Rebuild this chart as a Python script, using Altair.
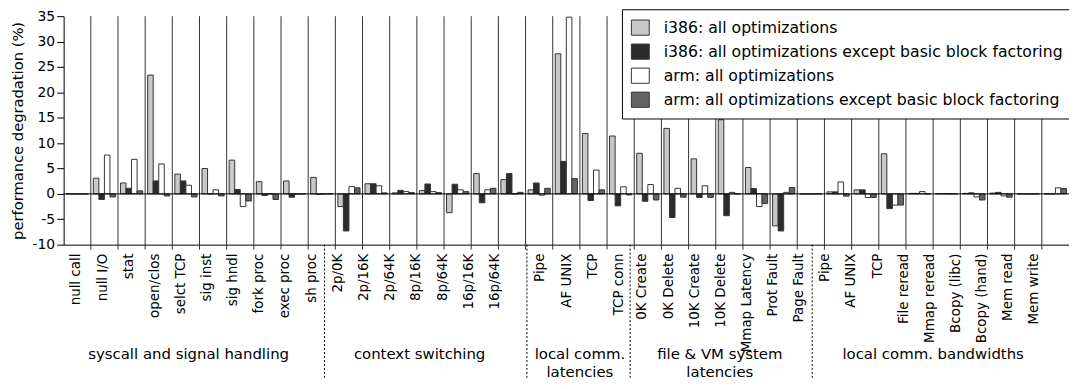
import altair as alt
import pandas as pd

categories = ["null call", "null I/O", "stat", "open/clos", "selct TCP", "sig inst", "sig hndl",
              "fork proc", "exec proc", "sh proc",
              "2p/0K", "2p/16K", "2p/64K", "8p/16K", "8p/64K", "16p/16K", "16p/64K",
              "Pipe", "AF UNIX", "TCP", "TCP conn",
              "0K Create", "0K Delete", "10K Create", "10K Delete", "Mmap Latency", "Prot Fault", "Page Fault",
              "Pipe", "AF UNIX", "TCP", "File reread", "Mmap reread", "Bcopy (libc)", "Bcopy (hand)",
              "Mem read", "Mem write"]

series = ["i386: all optimizations",
          "i386: all optimizations except basic block factoring",
          "arm: all optimizations",
          "arm: all optimizations except basic block factoring"]

i386_all = [0, 3.1, 2.15, 23.4, 3.9, 5.0, 6.65, 2.4, 2.55, 3.25,
            -2.5, 2.0, 0.2, 0.65, -3.7, 4.0, 2.8,
            0.8, 27.6, 11.9, 11.4,
            8.0, 12.9, 6.9, 14.6, 5.2, -6.3, 0,
            0.4, 0.8, 7.9, 0.1, 0.05, 0.1, 0.15, 0, 0]
i386_nobbf = [0, -1.1, 1.1, 2.55, 2.55, 0, 0.85, -0.3, -0.65, -0.1,
              -7.3, 2.0, 0.7, 1.95, 1.9, -1.75, 4.0,
              2.15, 6.4, -1.3, -2.35,
              -1.45, -4.65, -0.7, -4.3, 1.05, -7.3, 0,
              0.4, 0.8, -2.9, 0.1, 0.05, 0.2, 0.3, 0, 0]
arm_all = [0, 7.65, 6.8, 5.9, 1.7, 0.8, -2.5, 0, 0, 0,
           1.44, 1.6, 0.45, 0.45, 0.8, 0.8, 0,
           -0.25, 34.8, 4.7, 1.4,
           1.85, 1.1, 1.6, 0.3, -2.5, 0.3, 0,
           2.35, -0.7, -2.2, 0.45, 0, -0.6, -0.4, 0, 1.2]
arm_nobbf = [0, -0.6, 0.6, -0.4, -0.6, -0.4, -1.4, -1.1, 0, 0,
             1.2, 0.2, 0.25, 0.25, 0.45, 1.1, 0.3,
             1.1, 3.0, 0.8, -0.2,
             -1.2, -0.65, -0.7, 0, -1.9, 1.25, 0,
             -0.45, -0.7, -2.2, 0, 0, -1.2, -0.65, 0, 1.05]

colors = ["#c8c8c8", "#2b2b2b", "#ffffff", "#636363"]

group_names = ["syscall and signal handling", "context switching", "local comm.\nlatencies",
               "file & VM system\nlatencies", "local comm. bandwidths"]
group_sizes = [10, 7, 4, 7, 9]
y_ticks = [-10, -5, 0, 5, 10, 15, 20, 25, 30, 35]

# layout (in category units along the x axis)
group_centers = [4.6, 13.1, 19.0, 24.15, 32.0]
group_separators = [9.6, 17.05, 20.85, 27.55]
label_group_starts = [0.47, 10.1, 17.55, 21.3, 28.03]
label_pitch = 0.962

FONT = "DejaVu Sans"
W, H = 1012, 230

keys = [f"{i:02d}|{c}" for i, c in enumerate(categories)]
rows = []
for s, vals in zip(series, [i386_all, i386_nobbf, arm_all, arm_nobbf]):
    for k, v in zip(keys, vals):
        rows.append({"key": k, "series": s, "value": v})
df = pd.DataFrame(rows)

label_pos = []
for start, n in zip(label_group_starts, group_sizes):
    label_pos += [start + label_pitch * j for j in range(n)]
labels_df = pd.DataFrame({"pos": label_pos, "name": categories})

qscale = alt.Scale(domain=[0, 37], nice=False, zero=False)
yscale = alt.Scale(domain=[-10, 35], nice=False)
yaxis = alt.Axis(values=y_ticks, title="performance degradation (%)", grid=False,
                 labelExpr="datum.value + ''", labelOverlap=False,
                 tickSize=7, tickColor="black", domainColor="black", labelPadding=2,
                 labelFontSize=14, labelColor="black", labelFont=FONT,
                 titleFontSize=14.8, titleFont=FONT, titleFontWeight="normal",
                 titleColor="black", titlePadding=7)

bars = alt.Chart(df).mark_bar(stroke="#333333", strokeWidth=1).encode(
    x=alt.X("key:N", sort=keys, scale=alt.Scale(paddingInner=0, paddingOuter=0),
            axis=alt.Axis(title=None, labels=False, ticks=False, domainColor="black")),
    xOffset=alt.XOffset("series:N", sort=series, scale=alt.Scale(paddingInner=0, paddingOuter=0.45)),
    y=alt.Y("value:Q", scale=yscale, axis=yaxis),
    y2=alt.datum(0),
    color=alt.Color("series:N", sort=series, scale=alt.Scale(domain=series, range=colors),
                    legend=alt.Legend(title=None, orient="none", legendX=562, legendY=-7,
                                      fillColor="white", strokeColor="black", padding=9,
                                      symbolType="M-1,-0.85L1,-0.85L1,0.85L-1,0.85Z", symbolSize=324,
                                      symbolStrokeColor="#333333", symbolStrokeWidth=1,
                                      labelFontSize=15.8, labelFont=FONT, labelColor="black",
                                      labelLimit=600, rowPadding=3.2, labelOffset=14)),
)

rules_df = pd.DataFrame({"pos": list(range(1, 37))})
vrules = alt.Chart(rules_df).mark_rule(color="#333333", strokeWidth=1).encode(
    x=alt.X("pos:Q", scale=qscale, axis=None),
    y=alt.value(0), y2=alt.value(H + 5),
)

zero = alt.Chart(pd.DataFrame({"value": [0]})).mark_rule(color="black", strokeWidth=1).encode(
    y=alt.Y("value:Q", scale=yscale, axis=yaxis)
)

seps = alt.Chart(pd.DataFrame({"pos": group_separators})).mark_rule(
    color="black", strokeWidth=1, strokeDash=[2, 2]).encode(
    x=alt.X("pos:Q", scale=qscale, axis=None),
    y=alt.value(H), y2=alt.value(H + 136),
)

cat_labels = alt.Chart(labels_df).mark_text(
    font=FONT, fontSize=13.5, color="black", angle=270, align="right", baseline="middle").encode(
    x=alt.X("pos:Q", scale=qscale, axis=None),
    y=alt.value(H + 9),
    text="name:N",
)

glabels = alt.Chart(pd.DataFrame({"pos": group_centers, "name": group_names})).mark_text(
    font=FONT, fontSize=15, color="black", lineBreak="\n", lineHeight=18,
    baseline="alphabetic", align="center").encode(
    x=alt.X("pos:Q", scale=qscale, axis=None),
    y=alt.value(345),
    text="name:N",
)

chart = alt.layer(vrules, bars, zero, seps, cat_labels, glabels).resolve_scale(x="independent").properties(
    width=W, height=H,
    autosize=alt.AutoSizeParams(type="none"),
    padding={"left": 56, "top": 7, "right": 0, "bottom": 136},
).configure_view(strokeWidth=0)

chart.save("out.html", embed_options={"renderer": "svg", "actions": False})
